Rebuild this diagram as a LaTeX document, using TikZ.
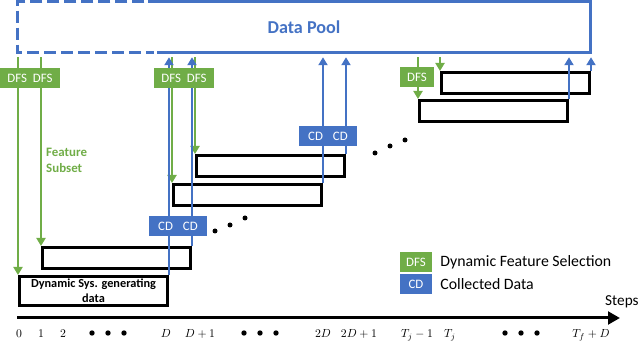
\documentclass[tikz,border=0pt]{standalone}
\usepackage{fontspec}
\setmainfont{Carlito}
\usetikzlibrary{arrows.meta, positioning}
\definecolor{dfsgreen}{HTML}{70AD47}
\definecolor{cdblue}{HTML}{4472C4}
\tikzset{
  sysbox/.style={draw=black, fill=white, line width=0.9mm, anchor=north west,
                 minimum width=44.4mm, minimum height=6.3mm, inner sep=0pt},
  dfsbox/.style={fill=dfsgreen, text=white, minimum width=9.6mm, minimum height=6mm,
                 inner xsep=2.1mm, inner ysep=0pt, font=\fontsize{11}{13}\selectfont},
  cdbox/.style={fill=cdblue, text=white, minimum width=9.6mm, minimum height=6mm,
                inner xsep=2.7mm, inner ysep=0pt, font=\fontsize{11}{13}\selectfont},
  garr/.style={-{Triangle[length=2.4mm, width=2.7mm]}, line width=0.7mm, dfsgreen},
  barr/.style={-{Triangle[length=2.4mm, width=2.7mm]}, line width=0.7mm, cdblue},
  poolline/.style={line width=0.9mm, cdblue},
  axisarr/.style={-{Triangle[length=3.6mm, width=3.8mm]}, line width=0.9mm, black},
  ticklbl/.style={font=\fontsize{10}{12}\selectfont, anchor=base, inner sep=0pt},
  legtxt/.style={font=\fontsize{13.5}{15}\selectfont, anchor=west, inner sep=0pt},
}
\begin{document}
\begin{tikzpicture}[x=0.3mm, y=-0.3mm, every node/.style={align=center}]
  \useasboundingbox (0,0) rectangle (640,344);

  %% Data Pool
  \node[font=\fontsize{15.5}{18}\selectfont\bfseries, text=cdblue, minimum width=171.6mm,
        minimum height=15.15mm, inner sep=0pt] (pool) at (304,26.75) {Data Pool};
  \draw[poolline] ([xshift=39mm]pool.north west) -- (pool.north east)
    -- (pool.south east) -- ([xshift=41.7mm]pool.south west);
  \draw[poolline, dash pattern=on 3.6mm off 1.5mm] ([xshift=38mm]pool.north west)
    -- (pool.north west) -- (pool.south west) -- ([xshift=40.8mm]pool.south west);

  %% Windows of the dynamic system
  \node[sysbox, minimum height=8.7mm, font=\fontsize{10.5}{13}\selectfont\bfseries]
    (b1) at (18,275) {Dynamic Sys. generating\\data};
  \node[sysbox] (b2) at (41,246) {};
  \node[sysbox] (b3) at (172,183) {};
  \node[sysbox] (b4) at (195,154) {};
  \node[sysbox] (b5) at (418,99) {};
  \node[sysbox] (b6) at (440,71) {};

  %% Feature subsets going down
  \draw[garr, shorten <=1.5mm] (pool.south -| b1.north west) -- (b1.north west);
  \draw[garr, shorten <=1.5mm] (pool.south -| b2.north west) -- (b2.north west);
  \draw[garr, shorten <=1.5mm] (pool.south -| b3.north west) -- (b3.north west);
  \draw[garr, shorten <=1.5mm] (pool.south -| b4.north west) -- (b4.north west);
  \draw[garr, shorten <=1.5mm] (pool.south -| b5.north west) -- (b5.north west);
  \draw[garr, shorten <=1.5mm] (pool.south -| b6.north west) -- (b6.north west);

  %% Collected data going up
  \draw[barr, shorten >=1.5mm] (b1.north east) -- (b1.north east |- pool.south);
  \draw[barr, shorten >=1.5mm] (b2.north east) -- (b2.north east |- pool.south);
  \draw[barr, shorten >=1.5mm] (b3.north east) -- (b3.north east |- pool.south);
  \draw[barr, shorten >=1.5mm] (b4.north east) -- (b4.north east |- pool.south);
  \draw[barr, shorten >=1.5mm] (b5.north east) -- (b5.north east |- pool.south);
  \draw[barr, shorten >=1.5mm] (b6.north east) -- (b6.north east |- pool.south);

  %% Labels on the lines
  \node[dfsbox] (dfs01) at (30,78) {DFS\hspace{1.8mm}DFS};
  \node[dfsbox] (dfsD) at (184,78) {DFS\hspace{1.8mm}DFS};
  \node[dfsbox] (dfsT) at (417,77.5) {DFS};
  \node[cdbox] (cdD) at (178,226) {CD\hspace{3mm}CD};
  \node[cdbox] (cd2D) at (328,136) {CD\hspace{3mm}CD};
  \node[font=\fontsize{11}{13.5}\selectfont\bfseries, text=dfsgreen, align=left,
        anchor=west, inner sep=0pt] (fsub) at (46,160) {Feature\\Subset};

  %% Dots between windows
  \foreach \x/\y in {215/231, 230/225, 245/218, 375/153, 390/146, 405/140}
    \fill (\x,\y) circle[radius=0.75mm];

  %% Time axis
  \coordinate (t0) at (17,318);
  \coordinate (tend) at (620,318);
  \draw[axisarr] (t0) -- (tend);
  \node[font=\fontsize{13}{15}\selectfont, anchor=base west, inner sep=0pt]
    (steps) at (605,306) {Steps};
  \foreach \x/\lbl in {19/0, 41/1, 63/2, 166/D, 200/D+1, 323/2D, 359/2D+1,
                       417/T_j-1, 450/T_j, 591/T_f+D}
    \node[ticklbl] (tick\x) at (\x,337.5) {$\lbl$};
  \foreach \x in {92,108,124,244,260,276,505,521,537}
    \fill (\x,333) circle[radius=0.8mm];

  %% Legend
  \node[dfsbox, inner xsep=1.8mm] (legdfs) at (416,262.5) {DFS};
  \node[cdbox, inner xsep=1.8mm, below=0.3mm of legdfs] (legcd) {CD};
  \node[legtxt, right=2.4mm of legdfs] (legdfstxt) {Dynamic Feature Selection};
  \node[legtxt, right=2.4mm of legcd] (legcdtxt) {Collected Data};

\end{tikzpicture}
\end{document}
